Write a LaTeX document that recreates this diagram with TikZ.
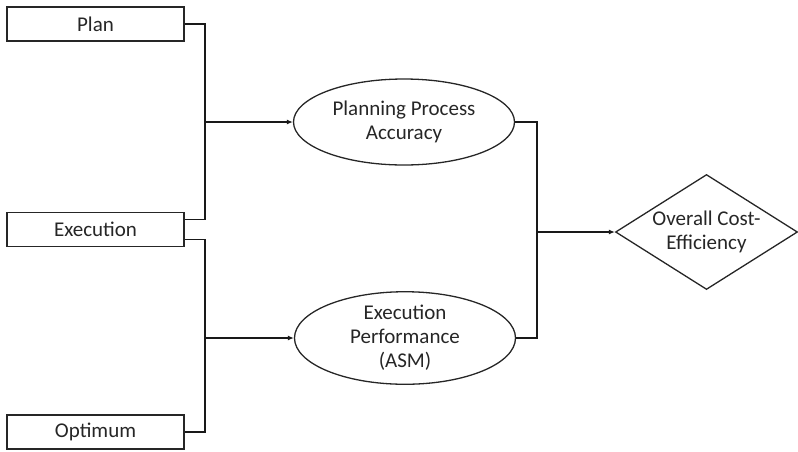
\documentclass[tikz,border=0pt]{standalone}
\usepackage{fontspec}
\setmainfont{Carlito}
\usepackage{tikz}
\usetikzlibrary{shapes.geometric,arrows.meta}

\begin{document}
\begin{tikzpicture}[x=1pt,y=-1pt,
        every node/.style={font=\fontsize{21}{24}\selectfont, text=black!85, align=center},
        inbox/.style={draw=black!85, line width=1.5pt, minimum width=177pt, minimum height=34pt, inner sep=0pt},
        measure/.style={ellipse, draw=black!85, line width=1.3pt, minimum width=221pt, minimum height=86pt, inner sep=0pt},
        target/.style={diamond, draw=black!85, line width=1.3pt, aspect=1.59, minimum width=182pt, minimum height=115pt, inner sep=-7pt},
        wire/.style={line width=1.5pt, draw=black!90},
        >={Latex[length=6pt,width=5pt]}]
        \useasboundingbox (0,0) rectangle (798,451);

        % Ingressi a sinistra
        \node[inbox] (plan) at (95.5,24) {Plan};
        \node[inbox] (exec) at (95.5,229.5) {Execution};
        \node[inbox] (opt)  at (95.5,432) {Optimum};

        % Misure intermedie e risultato
        \node[measure] (acc)  at (404,122) {Planning Process\\Accuracy};
        \node[measure] (perf) at (405,338) {Execution\\Performance\\(ASM)};
        \node[target]  (cost) at (706.5,232) {Overall Cost-\\Efficiency};

        % Punti di giunzione
        \coordinate (j1) at (205,122);
        \coordinate (j2) at (205,338);
        \coordinate (j3) at (537,232);

        \draw[wire] (plan.east) -| (j1) |- ([yshift=10pt]exec.east);
        \draw[wire,->] (j1) -- (acc.west);
        \draw[wire] ([yshift=-10pt]exec.east) -| (j2) |- (opt.east);
        \draw[wire,->] (j2) -- (perf.west);

        \draw[wire] (acc.east) -| (j3) |- (perf.east);
        \draw[wire,->] (j3) -- (cost.west);
    \end{tikzpicture}
\end{document}
